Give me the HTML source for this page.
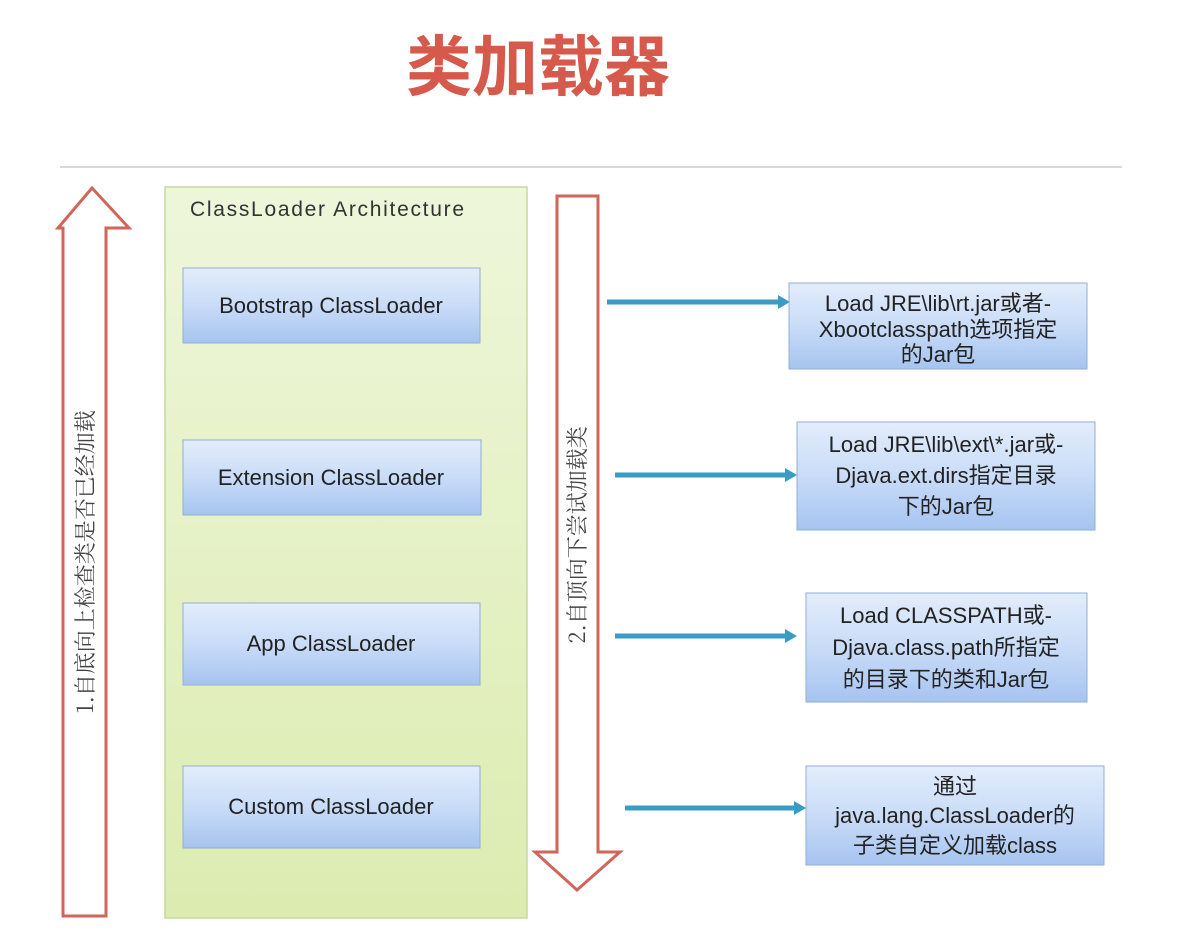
<!DOCTYPE html>
<html><head><meta charset="utf-8"><style>
body{margin:0;background:#fff;}
svg{display:block}
</style></head><body>
<svg width="1190" height="944" viewBox="0 0 1190 944" xmlns="http://www.w3.org/2000/svg" font-family="'Liberation Sans','Noto Sans CJK SC',sans-serif">
<defs>
<linearGradient id="bl" x1="0" y1="0" x2="0" y2="1">
<stop offset="0" stop-color="#e3edfb"/><stop offset="0.5" stop-color="#c9dcf8"/><stop offset="1" stop-color="#a6c4f0"/>
</linearGradient>
<linearGradient id="gr" x1="0" y1="0" x2="0" y2="1">
<stop offset="0" stop-color="#eef6da"/><stop offset="1" stop-color="#dcecb0"/>
</linearGradient>
</defs>
<text x="538" y="90" text-anchor="middle" font-size="66" font-weight="bold" fill="#d65a4c" font-family="'Noto Sans CJK SC',sans-serif">类加载器</text>
<line x1="60" y1="167" x2="1122" y2="167" stroke="#d8d8d8" stroke-width="2"/>
<polygon points="92,188 129,228 106,228 106,916 63,916 63,228 58,228" fill="#fff" stroke="#d0665a" stroke-width="3"/>
<text transform="translate(93,562) rotate(-90)" text-anchor="middle" font-size="22" fill="#444" font-family="'Noto Serif CJK SC',serif">1.自底向上检查类是否已经加载</text>
<rect x="165" y="187" width="362" height="731" fill="url(#gr)" stroke="#c6d9a0" stroke-width="1.5"/>
<text x="190" y="216" font-size="21" fill="#333" textLength="274">ClassLoader Architecture</text>
<g font-size="22" fill="#222" text-anchor="middle">
<rect x="183" y="268" width="297" height="75" fill="url(#bl)" stroke="#93aed6"/>
<text x="331" y="313">Bootstrap ClassLoader</text>
<rect x="183" y="440" width="298" height="75" fill="url(#bl)" stroke="#93aed6"/>
<text x="331" y="485">Extension ClassLoader</text>
<rect x="183" y="603" width="297" height="82" fill="url(#bl)" stroke="#93aed6"/>
<text x="331" y="651">App ClassLoader</text>
<rect x="183" y="766" width="297" height="82" fill="url(#bl)" stroke="#93aed6"/>
<text x="331" y="814">Custom ClassLoader</text>
</g>
<polygon points="557,196 598,196 598,852 620,852 577,890 535,852 557,852" fill="#fff" stroke="#d0665a" stroke-width="3"/>
<text transform="translate(585,535) rotate(-90)" text-anchor="middle" font-size="22" fill="#444" font-family="'Noto Serif CJK SC',serif">2.自顶向下尝试加载类</text>
<g stroke="#3a9cc4" stroke-width="5" fill="#3a9cc4">
<line x1="607" y1="302" x2="780" y2="302"/><polygon points="778,295 790,302 778,309" stroke="none"/>
<line x1="615" y1="475" x2="787" y2="475"/><polygon points="785,468 797,475 785,482" stroke="none"/>
<line x1="615" y1="636" x2="787" y2="636"/><polygon points="785,629 797,636 785,643" stroke="none"/>
<line x1="625" y1="808" x2="796" y2="808"/><polygon points="794,801 806,808 794,815" stroke="none"/>
</g>
<g font-size="22" fill="#222" text-anchor="middle">
<rect x="789" y="283" width="298" height="86" fill="url(#bl)" stroke="#93aed6"/>
<text x="938" y="311">Load JRE\lib\rt.jar或者-</text>
<text x="938" y="337">Xbootclasspath选项指定</text>
<text x="938" y="362">的Jar包</text>
<rect x="797" y="422" width="298" height="108" fill="url(#bl)" stroke="#93aed6"/>
<text x="946" y="452">Load JRE\lib\ext\*.jar或-</text>
<text x="946" y="483">Djava.ext.dirs指定目录</text>
<text x="946" y="514">下的Jar包</text>
<rect x="806" y="593" width="281" height="109" fill="url(#bl)" stroke="#93aed6"/>
<text x="946" y="623">Load CLASSPATH或-</text>
<text x="946" y="655">Djava.class.path所指定</text>
<text x="946" y="687">的目录下的类和Jar包</text>
<rect x="806" y="766" width="298" height="99" fill="url(#bl)" stroke="#93aed6"/>
<text x="955" y="794">通过</text>
<text x="955" y="823">java.lang.ClassLoader的</text>
<text x="955" y="853">子类自定义加载class</text>
</g>
</svg>
</body></html>
